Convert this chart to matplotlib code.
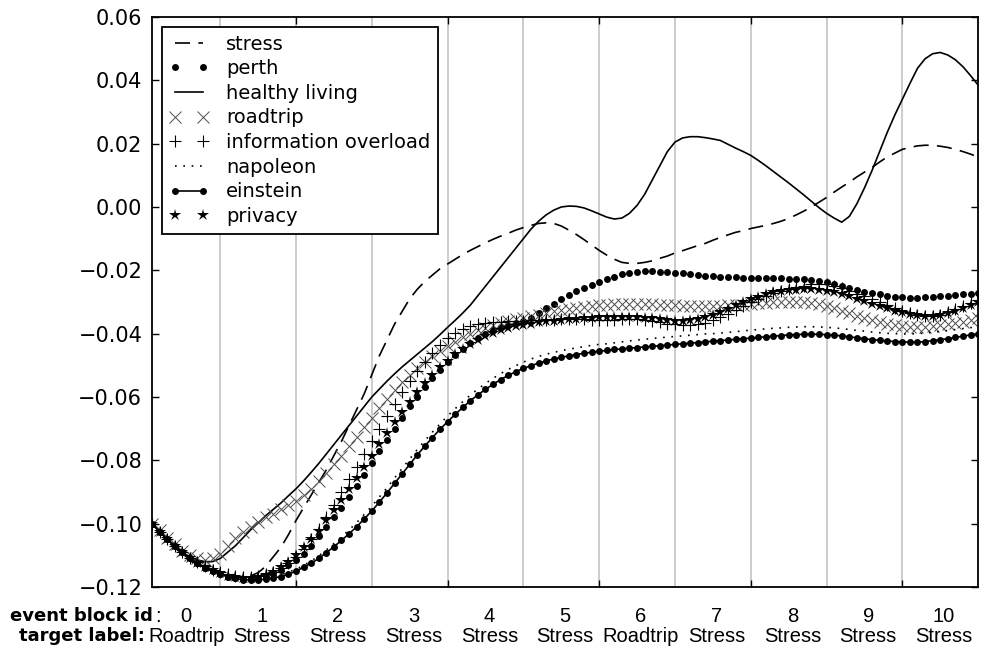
import numpy as np
import matplotlib
matplotlib.use("Agg")
import matplotlib.pyplot as plt

block_ids = list(range(11))
target_labels = ["Roadtrip", "Stress", "Stress", "Stress", "Stress", "Stress",
                 "Roadtrip", "Stress", "Stress", "Stress", "Stress"]
block_len = 10

stress = [
    -0.100, -0.1025, -0.105, -0.107, -0.109, -0.111, -0.112, -0.1135, -0.1145, -0.1155,
    -0.116, -0.1165, -0.1168, -0.1165, -0.1155, -0.1135, -0.1105, -0.1075, -0.1035, -0.099,
    -0.095, -0.091, -0.087, -0.083, -0.0785, -0.074, -0.069, -0.064, -0.059, -0.053,
    -0.047, -0.042, -0.037, -0.033, -0.029, -0.026, -0.0235, -0.0215, -0.0195, -0.018,
    -0.0165, -0.015, -0.0137, -0.0125, -0.0113, -0.0102, -0.0092, -0.0083, -0.0073, -0.0065,
    -0.0058, -0.0052, -0.005, -0.0052, -0.006, -0.0073, -0.0087, -0.0103, -0.012, -0.0137,
    -0.0152, -0.0165, -0.0175, -0.0178, -0.0178, -0.0175, -0.017, -0.0162, -0.0155, -0.0145,
    -0.0138, -0.013, -0.0122, -0.0115, -0.0105, -0.0096, -0.0088, -0.008, -0.0075, -0.0068,
    -0.0063, -0.0058, -0.0052, -0.0045, -0.0036, -0.0025, -0.0013, 0.000, 0.0015, 0.003,
    0.0047, 0.0063, 0.0078, 0.0095, 0.011, 0.0125, 0.0142, 0.0158, 0.017, 0.0182,
    0.0188, 0.0193, 0.0195, 0.0195, 0.0192, 0.0188, 0.0182, 0.0175, 0.0167, 0.0158,
]
perth = [
    -0.100, -0.1025, -0.105, -0.107, -0.109, -0.111, -0.1125, -0.114, -0.115, -0.116,
    -0.1168, -0.1172, -0.1175, -0.1175, -0.1172, -0.1165, -0.1155, -0.1145, -0.113, -0.1115,
    -0.1095, -0.107, -0.104, -0.101, -0.098, -0.095, -0.0915, -0.088, -0.0845, -0.081,
    -0.077, -0.0735, -0.070, -0.0665, -0.063, -0.060, -0.057, -0.054, -0.0515, -0.049,
    -0.0468, -0.0448, -0.043, -0.0415, -0.040, -0.0388, -0.0378, -0.0372, -0.0367, -0.036,
    -0.035, -0.0335, -0.032, -0.0305, -0.029, -0.0277, -0.0265, -0.0255, -0.0245, -0.0236,
    -0.0227, -0.022, -0.0213, -0.0208, -0.0205, -0.0203, -0.0203, -0.0204, -0.0206, -0.0208,
    -0.021, -0.0213, -0.0215, -0.0217, -0.0218, -0.022, -0.0221, -0.0222, -0.0223, -0.0224,
    -0.0224, -0.0224, -0.0224, -0.0225, -0.0226, -0.0227, -0.0228, -0.023, -0.0233, -0.0237,
    -0.0243, -0.025, -0.0256, -0.0262, -0.0267, -0.0272, -0.0276, -0.028, -0.0283, -0.0285,
    -0.0286, -0.0286, -0.0285, -0.0284, -0.0282, -0.028, -0.0278, -0.0276, -0.0274, -0.0272,
]
healthy_living = [
    -0.100, -0.1025, -0.105, -0.107, -0.109, -0.1105, -0.1115, -0.112, -0.112, -0.111,
    -0.109, -0.107, -0.1045, -0.102, -0.0998, -0.0975, -0.0955, -0.0935, -0.0912, -0.089,
    -0.0865, -0.0838, -0.081, -0.078, -0.075, -0.072, -0.069, -0.066, -0.063, -0.060,
    -0.0575, -0.055, -0.0527, -0.0505, -0.0485, -0.0465, -0.0445, -0.0425, -0.0403, -0.038,
    -0.0358, -0.0335, -0.031, -0.028, -0.025, -0.022, -0.019, -0.016, -0.013, -0.010,
    -0.007, -0.0045, -0.0025, -0.001, 0.000, 0.0003, 0.0002, -0.0003, -0.0012, -0.0022,
    -0.0032, -0.0038, -0.0035, -0.002, 0.0005, 0.004, 0.0085, 0.013, 0.0175, 0.0205,
    0.0218, 0.0222, 0.0222, 0.0219, 0.0215, 0.021, 0.0198, 0.0186, 0.0175, 0.0163,
    0.0147, 0.013, 0.0112, 0.0094, 0.0076, 0.0057, 0.0038, 0.0018, -0.0002, -0.002,
    -0.0035, -0.0048, -0.003, 0.001, 0.006, 0.0115, 0.0175, 0.0235, 0.029, 0.034,
    0.039, 0.0438, 0.0468, 0.0484, 0.0488, 0.048, 0.0465, 0.0443, 0.0415, 0.0385,
]
roadtrip = [
    -0.100, -0.102, -0.1045, -0.1065, -0.1085, -0.110, -0.111, -0.1115, -0.111, -0.1095,
    -0.107, -0.1045, -0.1025, -0.101, -0.0995, -0.098, -0.0968, -0.0955, -0.0942, -0.0928,
    -0.091, -0.089, -0.0865, -0.084, -0.0812, -0.0785, -0.0755, -0.0725, -0.0695, -0.0665,
    -0.0635, -0.0605, -0.0578, -0.0553, -0.053, -0.051, -0.049, -0.0472, -0.0455, -0.044,
    -0.0425, -0.0412, -0.040, -0.039, -0.0381, -0.0373, -0.0366, -0.036, -0.0355, -0.035,
    -0.0345, -0.034, -0.0335, -0.033, -0.0326, -0.0322, -0.0318, -0.0315, -0.0312, -0.031,
    -0.0308, -0.0306, -0.0305, -0.0305, -0.0305, -0.0306, -0.0307, -0.0308, -0.031, -0.0311,
    -0.0312, -0.0313, -0.0313, -0.0313, -0.0313, -0.0312, -0.0311, -0.031, -0.0308, -0.0306,
    -0.0304, -0.0302, -0.0301, -0.030, -0.030, -0.030, -0.0301, -0.0303, -0.0307, -0.0313,
    -0.032, -0.0328, -0.0336, -0.0344, -0.0351, -0.0358, -0.0364, -0.0369, -0.0373, -0.0376,
    -0.0378, -0.0379, -0.0379, -0.0377, -0.0374, -0.0371, -0.0367, -0.0362, -0.0357, -0.0352,
]
information_overload = [
    -0.100, -0.1025, -0.105, -0.107, -0.109, -0.1108, -0.1122, -0.1135, -0.1145, -0.1153,
    -0.116, -0.1165, -0.1168, -0.1168, -0.1165, -0.116, -0.1152, -0.114, -0.1125, -0.1105,
    -0.108, -0.105, -0.1017, -0.098, -0.094, -0.090, -0.086, -0.082, -0.078, -0.074,
    -0.070, -0.066, -0.0622, -0.0585, -0.055, -0.0518, -0.0488, -0.046, -0.0436, -0.0415,
    -0.0398, -0.0385, -0.0376, -0.037, -0.0366, -0.0364, -0.0362, -0.0361, -0.036, -0.0359,
    -0.0358, -0.0357, -0.0356, -0.0356, -0.0355, -0.0355, -0.0355, -0.0355, -0.0356, -0.0357,
    -0.0357, -0.0356, -0.0355, -0.0354, -0.0355, -0.0357, -0.036, -0.0364, -0.0368, -0.0371,
    -0.0373, -0.0373, -0.037, -0.0365, -0.0357, -0.0347, -0.0337, -0.0325, -0.0312, -0.030,
    -0.029, -0.0281, -0.0272, -0.0265, -0.0259, -0.0254, -0.0248, -0.0244, -0.0242, -0.0243,
    -0.0248, -0.0256, -0.0265, -0.0274, -0.0282, -0.0291, -0.030, -0.0309, -0.0318, -0.0327,
    -0.0335, -0.0341, -0.0345, -0.0345, -0.034, -0.0332, -0.0322, -0.0313, -0.0303, -0.0295,
]
napoleon = [
    -0.100, -0.1025, -0.105, -0.107, -0.109, -0.111, -0.1125, -0.114, -0.115, -0.116,
    -0.1167, -0.1172, -0.1175, -0.1176, -0.1175, -0.1172, -0.1167, -0.1161, -0.1153, -0.1144,
    -0.1132, -0.1118, -0.1102, -0.1083, -0.1063, -0.1042, -0.102, -0.0997, -0.0971, -0.0945,
    -0.0916, -0.0887, -0.0856, -0.0826, -0.0796, -0.0766, -0.0738, -0.0711, -0.0685, -0.066,
    -0.0637, -0.0615, -0.0594, -0.0575, -0.0557, -0.0541, -0.0526, -0.0513, -0.0501, -0.049,
    -0.048, -0.0472, -0.0465, -0.0459, -0.0454, -0.0449, -0.0445, -0.0441, -0.0437, -0.0434,
    -0.0432, -0.0429, -0.0426, -0.0423, -0.042, -0.0418, -0.0415, -0.0413, -0.0411, -0.0409,
    -0.0407, -0.0405, -0.0403, -0.0401, -0.040, -0.0398, -0.0396, -0.0394, -0.0391, -0.0389,
    -0.0387, -0.0385, -0.0383, -0.0382, -0.038, -0.0379, -0.0378, -0.0378, -0.0379, -0.038,
    -0.0382, -0.0384, -0.0387, -0.039, -0.0392, -0.0395, -0.0397, -0.0399, -0.040, -0.0401,
    -0.0401, -0.040, -0.0398, -0.0396, -0.0393, -0.039, -0.0387, -0.0384, -0.0381, -0.0378,
]
einstein = [
    -0.100, -0.1025, -0.105, -0.107, -0.109, -0.111, -0.1125, -0.114, -0.115, -0.116,
    -0.1168, -0.1173, -0.1177, -0.1178, -0.1178, -0.1176, -0.1172, -0.1167, -0.116, -0.115,
    -0.1138, -0.1125, -0.111, -0.1092, -0.1073, -0.1053, -0.1032, -0.101, -0.0985, -0.096,
    -0.0932, -0.0903, -0.0873, -0.0843, -0.0813, -0.0783, -0.0755, -0.0728, -0.0702, -0.0678,
    -0.0655, -0.0633, -0.0612, -0.0593, -0.0576, -0.056, -0.0545, -0.0532, -0.052, -0.051,
    -0.0501, -0.0493, -0.0486, -0.048, -0.0475, -0.047, -0.0466, -0.0462, -0.0459, -0.0456,
    -0.0453, -0.045, -0.0448, -0.0446, -0.0444, -0.0442, -0.044, -0.0438, -0.0436, -0.0434,
    -0.0432, -0.043, -0.0428, -0.0426, -0.0424, -0.0422, -0.042, -0.0418, -0.0416, -0.0414,
    -0.0412, -0.041, -0.0408, -0.0406, -0.0404, -0.0403, -0.0402, -0.0402, -0.0402, -0.0403,
    -0.0405, -0.0407, -0.041, -0.0413, -0.0416, -0.0419, -0.0421, -0.0423, -0.0425, -0.0426,
    -0.0427, -0.0427, -0.0425, -0.0422, -0.0419, -0.0416, -0.0412, -0.0408, -0.0404, -0.0401,
]
privacy = [
    -0.100, -0.1025, -0.105, -0.107, -0.109, -0.111, -0.1125, -0.1138, -0.1148, -0.1157,
    -0.1165, -0.117, -0.1173, -0.1173, -0.117, -0.1163, -0.1153, -0.1138, -0.112, -0.110,
    -0.1075, -0.105, -0.1022, -0.099, -0.0957, -0.0925, -0.089, -0.0855, -0.082, -0.0785,
    -0.075, -0.0715, -0.068, -0.0647, -0.0615, -0.0585, -0.0557, -0.053, -0.0506, -0.0485,
    -0.0465, -0.0448, -0.0433, -0.042, -0.0408, -0.0398, -0.039, -0.0383, -0.0377, -0.0372,
    -0.0368, -0.0364, -0.0361, -0.0359, -0.0357, -0.0355, -0.0353, -0.0351, -0.0349, -0.0348,
    -0.0347, -0.0347, -0.0347, -0.0347, -0.0348, -0.035, -0.0352, -0.0355, -0.0358, -0.036,
    -0.036, -0.0358, -0.0354, -0.0348, -0.034, -0.0331, -0.0321, -0.031, -0.030, -0.0291,
    -0.0283, -0.0276, -0.027, -0.0266, -0.0263, -0.0261, -0.026, -0.026, -0.0261, -0.0264,
    -0.0268, -0.0274, -0.0281, -0.0289, -0.0297, -0.0305, -0.0313, -0.032, -0.0327, -0.0333,
    -0.0338, -0.0342, -0.0344, -0.0344, -0.0341, -0.0335, -0.0327, -0.0318, -0.0309, -0.030,
]

x = np.arange(1, len(stress) + 1)

plt.rcParams["font.family"] = "DejaVu Sans"
fig = plt.figure(figsize=(9.87, 6.54), dpi=100)
ax = fig.add_axes([0.154, 0.1025, 0.837, 0.8715])

# block boundaries
for b in range(1, len(block_ids)):
    ax.axvline(b * block_len, color="#c4c4c4", lw=1.2, zorder=0)

ax.plot(x, stress, color="k", ls="--", dashes=(9, 5), lw=1.2, label="stress")
ax.plot(x, perth, color="k", ls="none", marker="o", ms=5, mew=0, label="perth")
ax.plot(x, healthy_living, color="k", ls="-", lw=1.2, label="healthy living")
ax.plot(x, roadtrip, color="0.3", ls="none", marker="x", ms=8, mew=0.7, label="roadtrip")
ax.plot(x, information_overload, color="k", ls="none", marker="+", ms=9, mew=0.8,
        label="information overload")
ax.plot(x, napoleon, color="k", ls=":", dashes=(1, 4), lw=1.2, label="napoleon")
ax.plot(x, einstein, color="k", ls="-", lw=1.2, marker="o", ms=5, mew=0, label="einstein")
ax.plot(x, privacy, color="k", ls="none", marker="*", ms=9, mew=0, label="privacy")

ax.set_xlim(x[0], x[-1])
ax.set_ylim(-0.12, 0.06)
ax.set_yticks(np.arange(-0.12, 0.061, 0.02))
ax.set_xticks(np.arange(20, 101, 20))
ax.tick_params(axis="both", direction="in", top=True, right=True, length=5, width=1,
               labelsize=15, pad=7)
ax.tick_params(axis="x", labelbottom=False)
for sp in ax.spines.values():
    sp.set_linewidth(1.3)

leg = ax.legend(loc="upper left", numpoints=2, fontsize=14, frameon=True,
                fancybox=False, framealpha=1, edgecolor="k", borderpad=0.4,
                labelspacing=0.29, handlelength=2.0, handletextpad=0.9,
                borderaxespad=0.5)
leg.get_frame().set_linewidth(1.3)

# block annotations under the axis
trans = matplotlib.transforms.blended_transform_factory(ax.transData, fig.transFigure)
lab_font = ["Liberation Sans", "DejaVu Sans"]
for i, (bid, lab) in enumerate(zip(block_ids, target_labels)):
    xc = i * block_len + (block_len + 1) / 2
    ax.text(xc, 0.058, str(bid), transform=trans, ha="center", va="center",
            fontsize=14.5, family=lab_font)
    ax.text(xc, 0.0275, lab, transform=trans, ha="center", va="center",
            fontsize=14.5, family=lab_font)

fig.text(153 / 987, 0.058, "event block id", ha="right", va="center",
         fontsize=13, fontweight="bold")
fig.text(155 / 987, 0.058, ":", ha="left", va="center", fontsize=14.5, family=lab_font)
fig.text(145 / 987, 0.0275, "target label:", ha="right", va="center",
         fontsize=13, fontweight="bold")

fig.savefig("out.png", dpi=100)
